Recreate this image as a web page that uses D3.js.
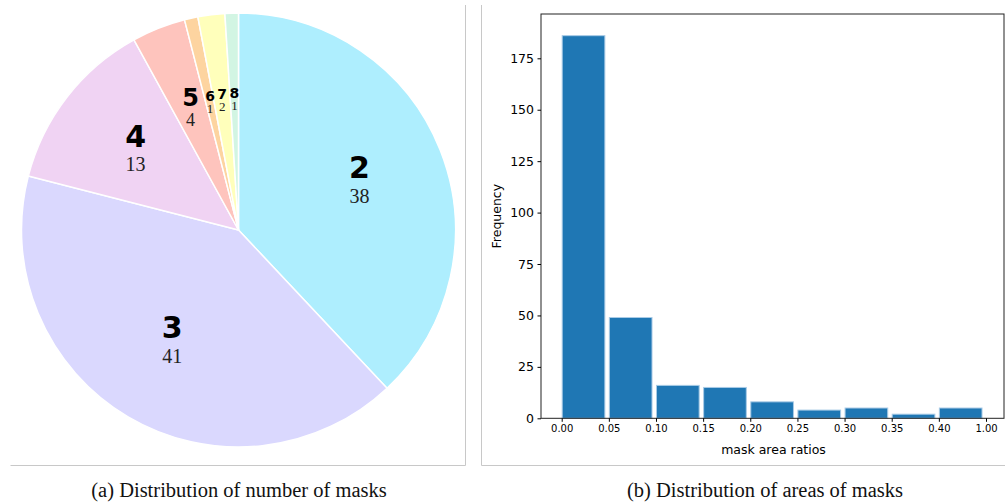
<!DOCTYPE html>
<html>
<head>
<meta charset="utf-8">
<script src="https://cdn.jsdelivr.net/npm/d3@7"></script>
<style>
  body { margin: 0; background: #fff; }
  svg { display: block; }
  .tick text { fill: #000; }
</style>
</head>
<body>
<div id="chart"></div>
<script>
// Canvas size
var w = 1005;
var h = 502;

// Pie data: number of masks per image
var maskCounts = ["2", "3", "4", "5", "6", "7", "8"];
var maskShares = [38, 41, 13, 4, 1, 2, 1];
var pieColors = ["#aeeefe", "#dad8fe", "#f0d3f3", "#fec4bd", "#fdd4a0", "#ffffbb", "#d2f5e3"];

// Histogram data: mask area ratio bins
var binLabels = ["0.00", "0.05", "0.10", "0.15", "0.20", "0.25", "0.30", "0.35", "0.40", "1.00"];
var binFreqs = [186, 49, 16, 15, 8, 4, 5, 2, 5];
var freqTicks = [0, 25, 50, 75, 100, 125, 150, 175];

var captions = ["(a) Distribution of number of masks", "(b) Distribution of areas of masks"];

var svg = d3.select("#chart")
  .append("svg")
  .attr("width", w)
  .attr("height", h);

// Panel frames (light grey)
var frame = svg.append("g")
  .attr("stroke", "#c8c8c8")
  .attr("stroke-width", 1)
  .attr("fill", "none");
frame.append("path").attr("d", "M10.5,465.5H465.5V5");
frame.append("path").attr("d", "M481.5,5V465.5H1005");

//PIE
var cx = 238.5, cy = 230, r = 217;

var pie = d3.pie()
  .value(function(d) { return d; })
  .sort(null)
  .startAngle(0)
  .endAngle(2 * Math.PI);

var arcs = pie(maskShares);

var arc = d3.arc().innerRadius(0).outerRadius(r);
var labelArc = d3.arc().innerRadius(r * 0.6).outerRadius(r * 0.6);

var pieG = svg.append("g")
  .attr("transform", "translate(" + cx + "," + cy + ")");

pieG.selectAll("path")
  .data(arcs)
  .enter()
  .append("path")
  .attr("d", arc)
  .attr("fill", function(d, i) { return pieColors[i]; })
  .attr("stroke", "#fff")
  .attr("stroke-width", 1.5)
  .attr("stroke-linejoin", "round");

// label size depends on slice size
var nameSize = d3.scaleThreshold().domain([3, 10]).range([14, 24, 30]);
var countSize = d3.scaleThreshold().domain([3, 10]).range([13, 18, 20]);

var labels = pieG.selectAll("g.lbl")
  .data(arcs)
  .enter()
  .append("g")
  .attr("class", "lbl")
  .attr("transform", function(d) {
    var c = labelArc.centroid(d);
    return "translate(" + c[0] + "," + c[1] + ")";
  });

labels.append("text")
  .attr("text-anchor", "middle")
  .attr("y", function(d) { return -nameSize(d.value) * 0.12; })
  .style("font-family", "'DejaVu Sans', sans-serif")
  .style("font-weight", "bold")
  .style("font-size", function(d) { return nameSize(d.value) + "px"; })
  .attr("fill", "#000")
  .text(function(d, i) { return maskCounts[i]; });

labels.append("text")
  .attr("text-anchor", "middle")
  .attr("y", function(d) { return nameSize(d.value) * 0.7; })
  .style("font-family", "'Liberation Serif', serif")
  .style("font-size", function(d) { return countSize(d.value) + "px"; })
  .attr("fill", "#222")
  .text(function(d) { return d.value; });

//HISTOGRAM
var axLeft = 541, axRight = 1004, axTop = 14, axBottom = 418.3;

var xScale = d3.scaleLinear()
  .domain([0, binLabels.length - 1])
  .range([561.7, 986]);

var yScale = d3.scaleLinear()
  .domain([0, 175])
  .range([axBottom, 58.3]);

var binW = xScale(1) - xScale(0);

svg.append("g")
  .selectAll("rect")
  .data(binFreqs)
  .enter()
  .append("rect")
  .attr("x", function(d, i) { return xScale(i) + 0.5; })
  .attr("y", function(d) { return yScale(d); })
  .attr("width", binW * 0.905)
  .attr("height", function(d) { return axBottom - yScale(d); })
  .attr("fill", "#1f77b4")
  .attr("stroke", "#a9cbe6")
  .attr("stroke-width", 1);

// Axes box
svg.append("rect")
  .attr("x", axLeft)
  .attr("y", axTop)
  .attr("width", axRight - axLeft)
  .attr("height", axBottom - axTop)
  .attr("fill", "none")
  .attr("stroke", "#222")
  .attr("stroke-width", 1);

var xAxis = d3.axisBottom(xScale)
  .tickValues(d3.range(binLabels.length))
  .tickFormat(function(i) { return binLabels[i]; })
  .tickSize(3.5)
  .tickPadding(3.5);

var yAxis = d3.axisLeft(yScale)
  .tickValues(freqTicks)
  .tickSize(3.5)
  .tickPadding(3.5);

var gx = svg.append("g")
  .attr("transform", "translate(0," + axBottom + ")")
  .call(xAxis);
gx.select(".domain").remove();
gx.selectAll("text")
  .style("font-family", "'DejaVu Sans', sans-serif")
  .style("font-size", "10px");

var gy = svg.append("g")
  .attr("transform", "translate(" + axLeft + ",0)")
  .call(yAxis);
gy.select(".domain").remove();
gy.selectAll("text")
  .style("font-family", "'DejaVu Sans', sans-serif")
  .style("font-size", "12.5px");

svg.append("text")
  .attr("x", (axLeft + axRight) / 2 + 1)
  .attr("y", 454)
  .attr("text-anchor", "middle")
  .style("font-family", "'DejaVu Sans', sans-serif")
  .style("font-size", "12.5px")
  .text("mask area ratios");

svg.append("text")
  .attr("transform", "translate(501," + (axTop + axBottom) / 2 + ") rotate(-90)")
  .attr("text-anchor", "middle")
  .style("font-family", "'DejaVu Sans', sans-serif")
  .style("font-size", "12.5px")
  .text("Frequency");

// Captions
svg.selectAll("text.caption")
  .data(captions)
  .enter()
  .append("text")
  .attr("class", "caption")
  .attr("x", function(d, i) { return i == 0 ? 239 : 765; })
  .attr("y", 497)
  .attr("text-anchor", "middle")
  .style("font-family", "'Liberation Serif', 'Times New Roman', serif")
  .style("font-size", "20.5px")
  .attr("fill", "#111")
  .text(function(d) { return d; });
</script>
</body>
</html>
